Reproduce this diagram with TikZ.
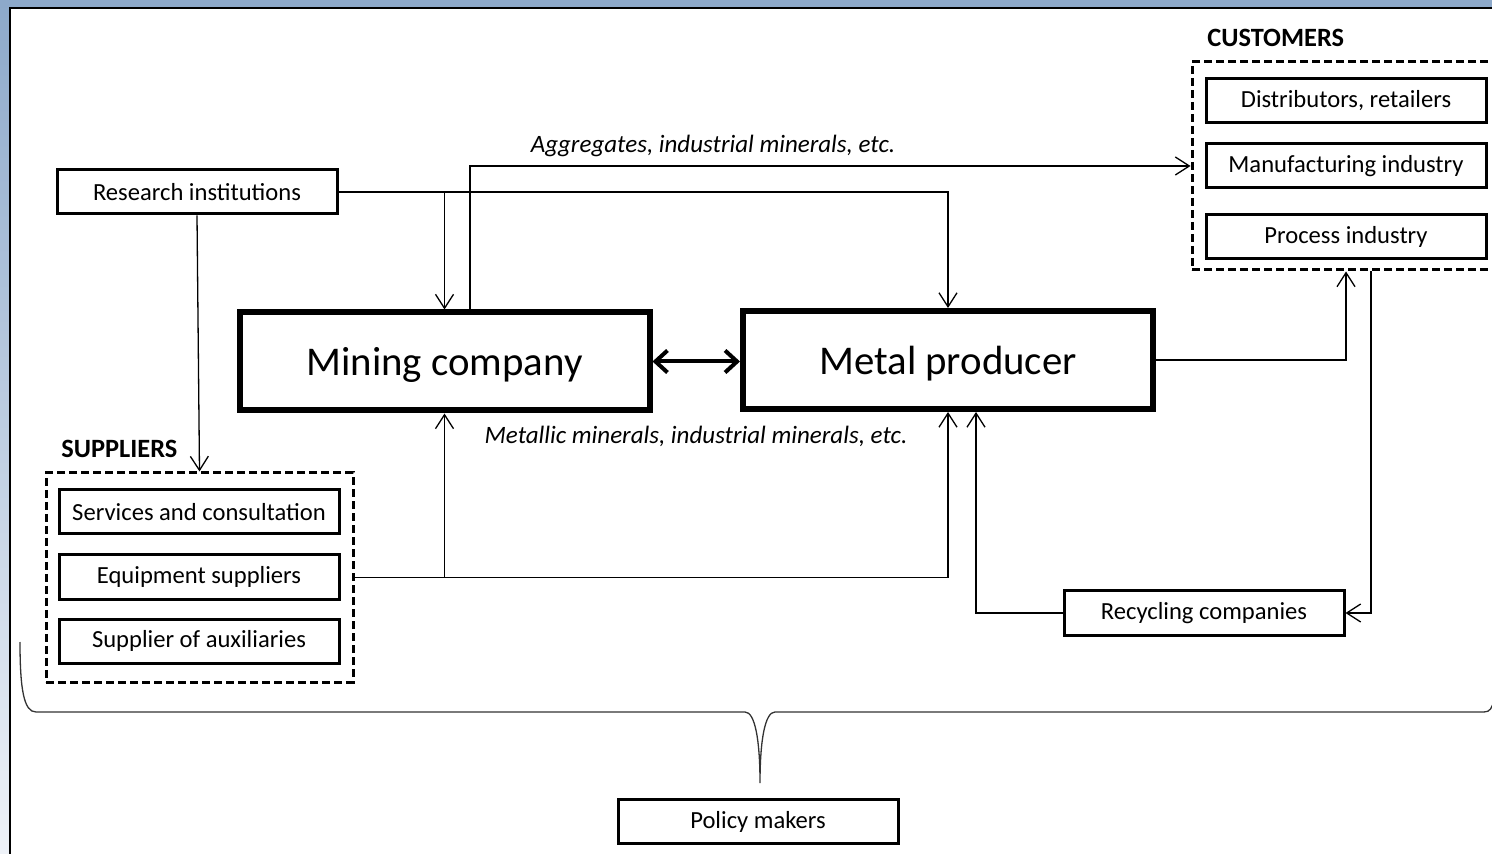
\documentclass[tikz,border=0pt]{standalone}
\usepackage{fontspec}
\setmainfont{Carlito}
\usetikzlibrary{arrows.meta,positioning}
\definecolor{frameblue}{HTML}{8DA9CA}
\definecolor{framelight}{HTML}{EEF2F8}
\begin{document}
\begin{tikzpicture}[x=0.5pt, y=-0.5pt,
    box/.style={draw, line width=1.5pt, minimum width=140pt, minimum height=22pt, inner sep=0pt, font=\fontsize{12.3}{14}\selectfont},
    main/.style={draw, line width=3pt, minimum width=205pt, minimum height=49pt, inner sep=0pt, text depth=0pt, font=\fontsize{20.4}{24}\selectfont},
    groupbox/.style={draw, line width=1.5pt, dash pattern=on 4pt off 2pt, inner sep=0pt},
    grouptitle/.style={font=\fontsize{13.2}{15}\selectfont\bfseries, anchor=west, inner sep=0pt},
    flowlabel/.style={font=\fontsize{12.5}{15}\selectfont\itshape, inner sep=0pt},
    flow/.style={line width=0.65pt, -{Straight Barb[length=7pt, width=9pt]}},
    twoway/.style={line width=2pt, {Straight Barb[length=6pt, width=11pt]}-{Straight Barb[length=6pt, width=11pt]}}]
    \useasboundingbox (0,0) rectangle (1492,854);
    \clip (0,0) rectangle (1492,854);
    \fill[top color=frameblue, bottom color=framelight] (0,0) rectangle (9,854);
    \fill[frameblue] (0,0) rectangle (1492,8);
    \draw[line width=1pt] (9.5,854) -- (9.5,8.5) -- (1492,8.5);

    \node[main] (mine) at (444.5,361.5) {Mining company};
    \node[main] (metal) at (948,360) {Metal producer};
    \node[box] (res) at (197,192) {Research institutions};

    \node[groupbox, minimum width=154pt, minimum height=104pt] (cust) at (1346,166) {};
    \node[grouptitle] (custtitle) at (1207,38) {CUSTOMERS};
    \node[box] (dist) at (1346,101) {Distributors, retailers};
    \node[box] (manu) at (1346,166) {Manufacturing industry};
    \node[box] (proc) at (1346,237) {Process industry};

    \node[groupbox, minimum width=153.5pt, minimum height=104.5pt] (sup) at (199.5,577.5) {};
    \node[grouptitle] (suptitle) at (61,449) {SUPPLIERS};
    \node[box] (serv) at (199,512) {Services and consultation};
    \node[box] (equip) at (199,577) {Equipment suppliers};
    \node[box] (aux) at (199,641) {Supplier of auxiliaries};

    \node[box] (rec) at (1204,613) {Recycling companies};
    \node[box] (pol) at (758,821.5) {Policy makers};

    \draw[flow] (res.east) -| (metal.north);
    \draw[flow] (mine.north |- res.east) -- (mine.north);
    \draw[flow] (res.south) -- (sup.north);
    \draw[flow] ([xshift=12.75pt]mine.north) |- (cust.west);
    \node[flowlabel] (aggr) at (713,146) {Aggregates, industrial minerals, etc.};
    \draw[twoway] (mine.east) -- (mine.east -| metal.west);
    \draw[flow] (metal.east) -| (cust.south);
    \draw[flow] ([xshift=12.5pt]cust.south) |- (rec.east);
    \draw[flow] (rec.west) -| ([xshift=14pt]metal.south);
    \draw[flow] (sup.east) -| (metal.south);
    \draw[flow] (mine.south |- sup.east) -- (mine.south);
    \node[flowlabel] (metallic) at (696,436) {Metallic minerals, industrial minerals, etc.};

    \coordinate (tip) at (760,783);
    \draw[line width=0.65pt, black!80] (20,642) .. controls (20,690) and (24,712) .. (36,712) -- (745,712)
        .. controls (755,712) and (760,740) .. (tip) .. controls (760,740) and (765,712) .. (775,712)
        -- (1484,712) .. controls (1490,712) and (1492,708) .. (1494,700);
\end{tikzpicture}
\end{document}
